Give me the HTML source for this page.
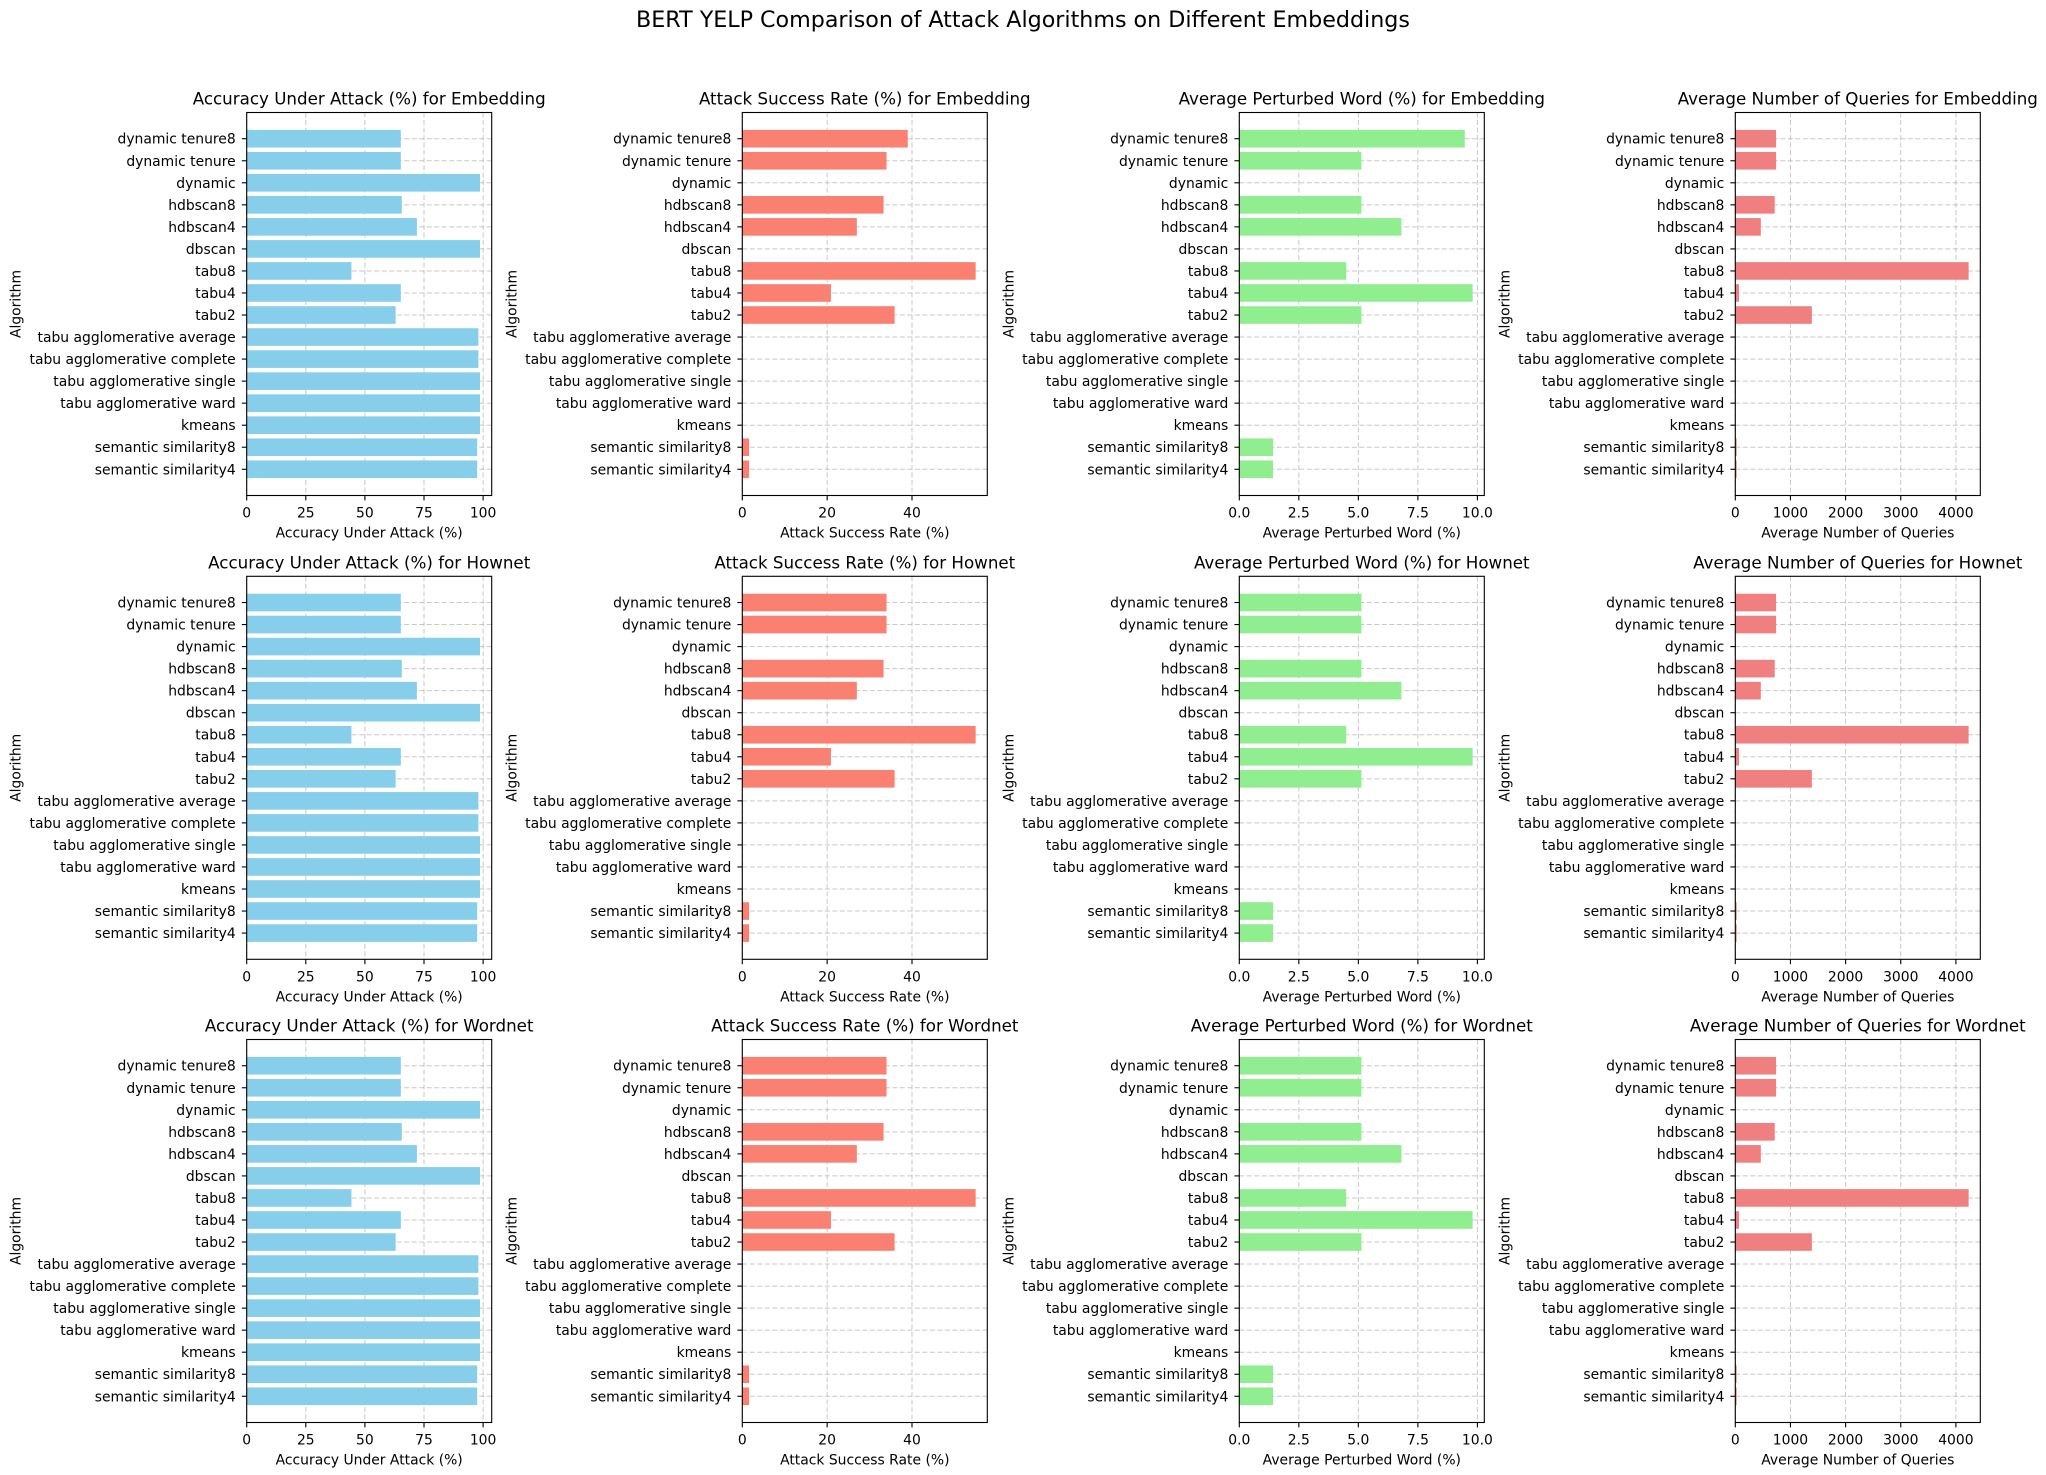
<!DOCTYPE html>
<html><head><meta charset="utf-8"><style>
html,body{margin:0;padding:0;background:#fff;}
svg{display:block;font-family:"DejaVu Sans","Liberation Sans",sans-serif;}
</style></head><body>
<svg id="fig" width="2046" height="1475" viewBox="0 0 2046 1475" xmlns="http://www.w3.org/2000/svg">
<rect width="2046" height="1475" fill="#fff"/>
<text x="1023" y="27" text-anchor="middle" font-size="22.2" fill="#000">BERT YELP Comparison of Attack Algorithms on Different Embeddings</text>
</svg>
<script>
const categories = ["semantic similarity4","semantic similarity8","kmeans","tabu agglomerative ward","tabu agglomerative single","tabu agglomerative complete","tabu agglomerative average","tabu2","tabu4","tabu8","dbscan","hdbscan4","hdbscan8","dynamic","dynamic tenure","dynamic tenure8"];
const embeddings = ["Embedding","Hownet","Wordnet"];
const accEmbedding = [97.5,97.5,98.7,98.7,98.7,98,98,63,65.2,44.3,98.7,72,65.6,98.7,65.2,65.2];
const accHownet = [97.5,97.5,98.7,98.7,98.7,98,98,63,65.2,44.3,98.7,72,65.6,98.7,65.2,65.2];
const accWordnet = [97.5,97.5,98.7,98.7,98.7,98,98,63,65.2,44.3,98.7,72,65.6,98.7,65.2,65.2];
const asrEmbedding = [1.6,1.6,0,0,0,0,0,35.9,20.9,55,0,27,33.3,0,34,39];
const asrHownet = [1.6,1.6,0,0,0,0,0,35.9,20.9,55,0,27,33.3,0,34,34];
const asrWordnet = [1.6,1.6,0,0,0,0,0,35.9,20.9,55,0,27,33.3,0,34,34];
const apwEmbedding = [1.42,1.42,0,0,0,0,0,5.13,9.8,4.49,0,6.81,5.13,0,5.13,9.47];
const apwHownet = [1.42,1.42,0,0,0,0,0,5.13,9.8,4.49,0,6.81,5.13,0,5.13,5.13];
const apwWordnet = [1.42,1.42,0,0,0,0,0,5.13,9.8,4.49,0,6.81,5.13,0,5.13,5.13];
const qEmbedding = [25,25,0,0,0,0,0,1388,67,4231,0,463,715,0,740,740];
const qHownet = [25,25,0,0,0,0,0,1388,67,4231,0,463,715,0,740,740];
const qWordnet = [25,25,0,0,0,0,0,1388,67,4231,0,463,715,0,740,740];
const accTicks = [0,25,50,75,100];
const asrTicks = [0,20,40];
const apwTicks = ["0.0","2.5","5.0","7.5","10.0"];
const qTicks = [0,1000,2000,3000,4000];

const metrics = [
 {name:"Accuracy Under Attack (%)", slug:"accuracy", color:"#87CEEB", data:[accEmbedding,accHownet,accWordnet], ticks:accTicks},
 {name:"Attack Success Rate (%)", slug:"success-rate", color:"#FA8072", data:[asrEmbedding,asrHownet,asrWordnet], ticks:asrTicks},
 {name:"Average Perturbed Word (%)", slug:"perturbed", color:"#90EE90", data:[apwEmbedding,apwHownet,apwWordnet], ticks:apwTicks},
 {name:"Average Number of Queries", slug:"queries", color:"#F08080", data:[qEmbedding,qHownet,qWordnet], ticks:qTicks}
];
const NS="http://www.w3.org/2000/svg";
const svg=document.getElementById('fig');
function mk(tag,attrs,parent){const e=document.createElementNS(NS,tag);for(const k in attrs)e.setAttribute(k,attrs[k]);(parent||svg).appendChild(e);return e;}
const lefts=[246.7,742.3,1239.3,1735.3], tops=[112.5,576.3,1039.5], W=245, H=383;
const n=categories.length, y0=-0.4-0.79, y1=n-1+0.4+0.79;
embeddings.forEach((emb,r)=>{
 metrics.forEach((m,c)=>{
  const L=lefts[c],T=tops[r];
  const g=mk('g',{});
  
  
  const vals=m.data[r];
  const xmax=Math.max(...vals)*1.05;
  const xs=v=>L+v/xmax*W;
  const ys=i=>T+(y1-i)/(y1-y0)*H;
  m.ticks.forEach(t=>{const x=xs(parseFloat(t));
   const gl=mk('line',{x1:x,x2:x,y1:T,y2:T+H,stroke:'#b0b0b0','stroke-width':1,'stroke-dasharray':'5,2.5','stroke-opacity':0.7},g);
   });
  categories.forEach((cat,i)=>{const y=ys(i);
   const gl=mk('line',{x1:L,x2:L+W,y1:y,y2:y,stroke:'#b0b0b0','stroke-width':1,'stroke-dasharray':'5,2.5','stroke-opacity':0.7},g);
   });
  vals.forEach((v,i)=>{const yc=ys(i),bh=0.8/(y1-y0)*H;
   const b=mk('rect',{x:L,y:yc-bh/2,width:Math.max(0,xs(v)-L),height:bh,fill:m.color},g);
   
   });
  const f=mk('rect',{x:L,y:T,width:W,height:H,fill:'none',stroke:'#000','stroke-width':1.1},g);
  
  m.ticks.forEach(t=>{const x=xs(parseFloat(t));
   mk('line',{x1:x,x2:x,y1:T+H,y2:T+H+4.9,stroke:'#000','stroke-width':1.1},g);
   const tl=mk('text',{x:x,y:T+H+22,'text-anchor':'middle','font-size':13.9,fill:'#000'},g);
   tl.textContent=t;
   });
  categories.forEach((cat,i)=>{const y=ys(i);
   mk('line',{x1:L-4.9,x2:L,y1:y,y2:y,stroke:'#000','stroke-width':1.1},g);
   const tl=mk('text',{x:L-11,y:y+5,'text-anchor':'end','font-size':13.9,fill:'#000'},g);
   tl.textContent=cat;
   });
  const xl=mk('text',{x:L+W/2,y:T+H+42,'text-anchor':'middle','font-size':13.9,fill:'#000'},g);
  xl.textContent=m.name;
  
  const yl=mk('text',{x:0,y:0,'text-anchor':'middle','font-size':13.9,fill:'#000',transform:'translate('+(L-226)+','+(T+H/2)+') rotate(-90)'},g);
  yl.textContent='Algorithm';
  
  const tt=mk('text',{x:L+W/2,y:T-8,'text-anchor':'middle','font-size':16.7,fill:'#000'},g);
  tt.textContent=m.name+' for '+emb;
  
 });
});
</script>
</body></html>
